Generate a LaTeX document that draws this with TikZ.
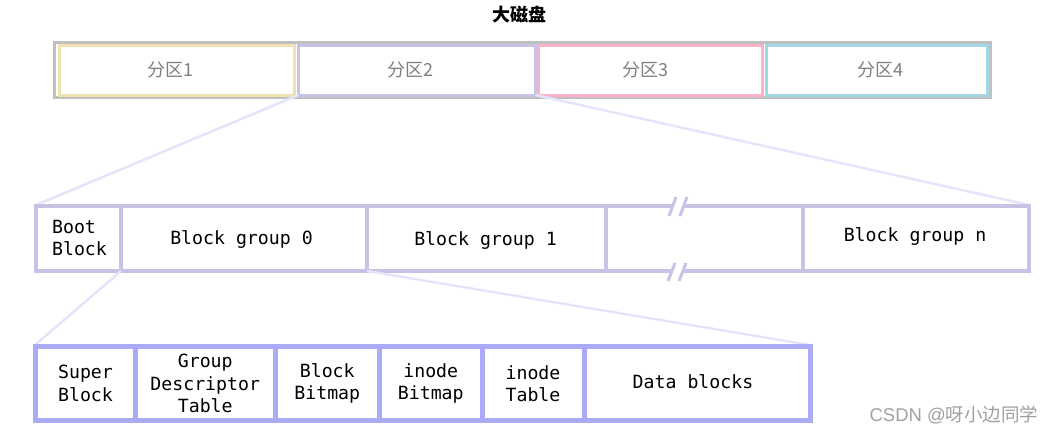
\documentclass[tikz,border=0pt]{standalone}
\usepackage{fontspec}
\setmainfont{Liberation Sans}
\setmonofont{DejaVu Sans Mono}
\newfontfamily\cjk{Noto Sans CJK SC}
\definecolor{grayb}{HTML}{C0C0C0}
\definecolor{yel}{HTML}{EEE3B0}
\definecolor{lav}{HTML}{C8C2E6}
\definecolor{pinkb}{HTML}{F8B2CA}
\definecolor{cyanb}{HTML}{A2D8E6}
\definecolor{peri}{HTML}{AAAAF6}
\definecolor{conn}{HTML}{E6E4FA}
\definecolor{labgray}{HTML}{7F7F7F}
\definecolor{wm}{HTML}{A0A0A0}
\begin{document}
\begin{tikzpicture}[x=1pt,y=-1pt,
  part/.style={draw, line width=3pt, inner sep=0pt, outer sep=0pt, minimum height=49.5pt},
  plab/.style={text=labgray, font=\cjk\fontsize{18}{20}\selectfont, inner sep=0pt},
  midcell/.style={draw=lav, line width=4.5pt, inner sep=0pt, outer sep=0pt, minimum height=65pt, anchor=north west},
  botcell/.style={draw=peri, line width=5pt, inner sep=0pt, outer sep=0pt, minimum height=74pt, anchor=north west},
  ctext/.style={font=\ttfamily\fontsize{18.2}{22.5}\selectfont, align=center, inner sep=0pt},
  conline/.style={draw=conn, line width=2.5pt},
  brk/.style={draw=lav, line width=3pt}]
\useasboundingbox (0,0) rectangle (1054,434);
% title
\node[font=\cjk\bfseries\fontsize{18}{20}\selectfont, inner sep=0pt] (title) at (519,15) {大磁盘};
% disk outer
\node[draw=grayb, line width=3pt, inner sep=0pt, outer sep=0pt, minimum width=936pt, minimum height=55pt, anchor=north west] (disk) at (54.5,42.5) {};
% partitions
\node[part, draw=yel, minimum width=235.5pt, anchor=north west] (p1) at (59,45.5) {};
\node[part, draw=lav, minimum width=237pt, anchor=north west] (p2) at (298.5,45.5) {};
\node[part, draw=pinkb, minimum width=224.5pt, anchor=north west] (p3) at (538,45.5) {};
\node[part, draw=cyanb, minimum width=221pt, anchor=north west] (p4) at (766,45.5) {};
\node[plab] (l1) at (170,70) {分区1};
\node[plab] (l2) at (410,70) {分区2};
\node[plab] (l3) at (645,70) {分区3};
\node[plab] (l4) at (880,70) {分区4};
% connectors top -> middle
\draw[conline] (p2.south west) -- (36,205) coordinate (m1);
\draw[conline] (p2.south east) -- (1029,205) coordinate (m2);
% middle row
\node[midcell, minimum width=85pt] (boot) at (36,206) {};
\node[midcell, minimum width=246pt] (bg0) at (121,206) {};
\node[midcell, minimum width=239pt] (bg1) at (367,206) {};
\node[midcell, minimum width=197pt] (gap) at (606,206) {};
\node[midcell, minimum width=226pt] (bgn) at (803,206) {};
\node[ctext, align=left] (tboot) at (79.5,238) {Boot\\Block};
\node[ctext] (tbg0) at (241.5,239) {Block group 0};
\node[ctext] (tbg1) at (485.5,240) {Block group 1};
\node[ctext] (tbgn) at (915,236) {Block group n};
% break marks
\fill[white] (672.5,202) rectangle (684,210);
\fill[white] (672.5,267) rectangle (684,275);
\draw[brk] (669,216) -- (676,197);
\draw[brk] (680,216) -- (687,197);
\draw[brk] (668,281) -- (675,263);
\draw[brk] (679,281) -- (686,263);
% connectors middle -> bottom
\draw[conline] (boot.south east) -- (35,345);
\draw[conline] (bg0.south east) -- (810,345);
% bottom row
\node[botcell, minimum width=100pt] (sb) at (35.5,346.5) {};
\node[botcell, minimum width=139.5pt] (gdt) at (135.5,346.5) {};
\node[botcell, minimum width=104.5pt] (bb) at (275,346.5) {};
\node[botcell, minimum width=102.5pt] (ib) at (379.5,346.5) {};
\node[botcell, minimum width=102pt] (it) at (482,346.5) {};
\node[botcell, minimum width=226pt] (db) at (584,346.5) {};
\node[ctext] (tsb) at (sb.center) {Super\\Block};
\node[ctext] (tgdt) at (gdt.center) {Group\\Descriptor\\Table};
\node[ctext] (tbb) at (bb.center) {Block\\Bitmap};
\node[ctext] (tib) at (ib.center) {inode\\Bitmap};
\node[ctext] (tit) at (it.center) {inode\\Table};
\node[ctext] (tdb) at (693,382) {Data blocks};
% watermark
\node[text=wm, font=\fontsize{18.5}{20}\selectfont, inner sep=0pt] (wmk) at (954,415) {CSDN @{\cjk 呀小边同学}};
\end{tikzpicture}
\end{document}
